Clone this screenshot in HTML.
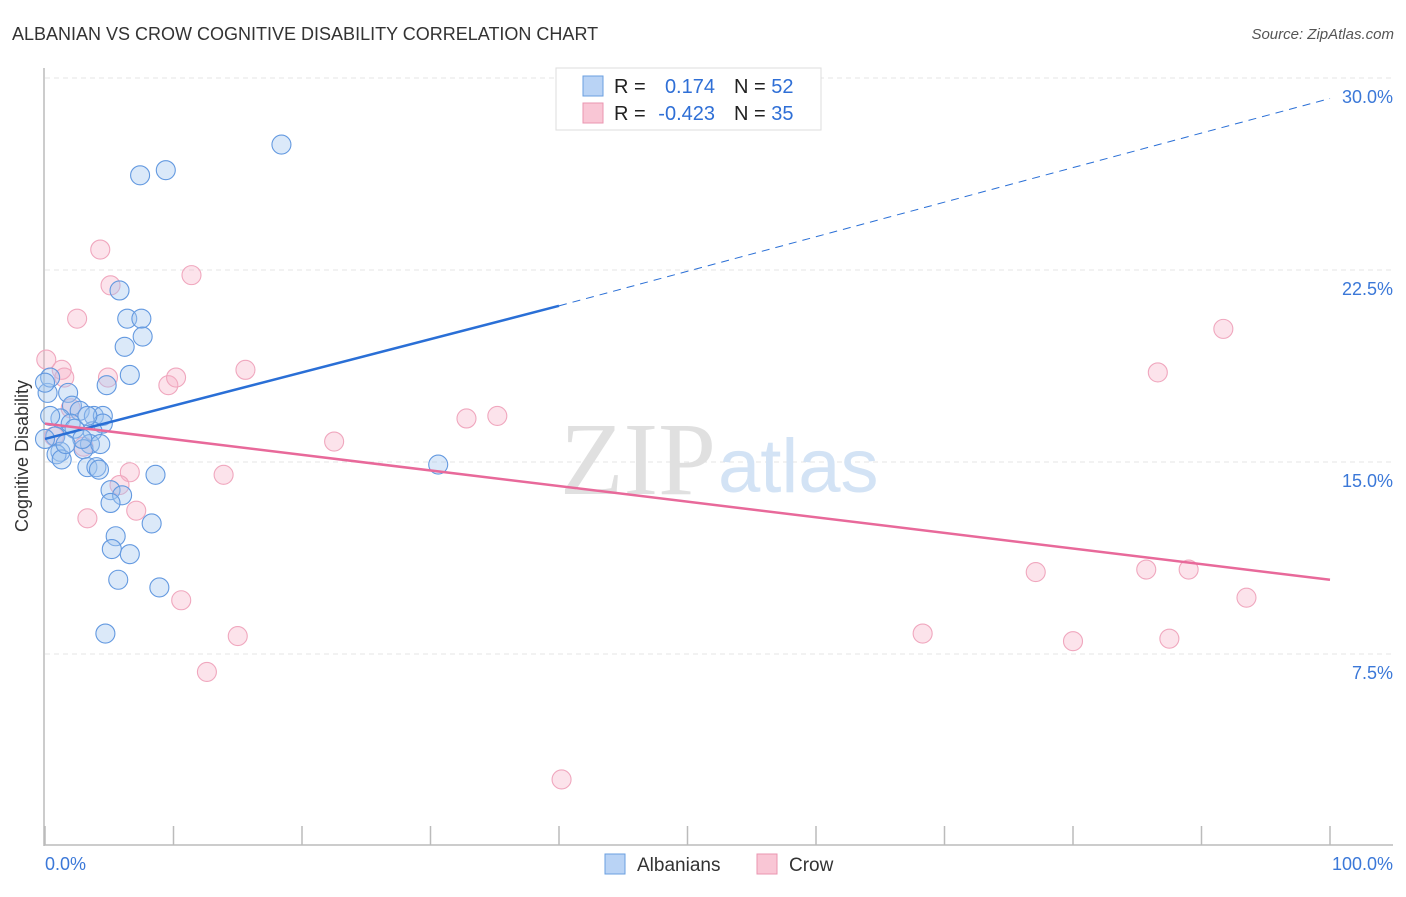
<!DOCTYPE html>
<html><head><meta charset="utf-8">
<style>
body{margin:0;background:#fff;font-family:"Liberation Sans",sans-serif;}
svg text{font-family:"Liberation Sans",sans-serif;}
</style></head>
<body>
<svg id="chart" width="1406" height="892" xmlns="http://www.w3.org/2000/svg">
<text x="12" y="40" font-size="18" fill="#333">ALBANIAN VS CROW COGNITIVE DISABILITY CORRELATION CHART</text>
<text x="1394" y="39" font-size="15" fill="#555" text-anchor="end" font-style="italic">Source: ZipAtlas.com</text>
<g id="grid"></g>
<line x1="44" y1="68" x2="44" y2="846" stroke="#bbb" stroke-width="1.5"/>
<line x1="44" y1="845" x2="1393" y2="845" stroke="#bbb" stroke-width="1.5"/>
<text x="28" y="456" font-size="18" fill="#333" text-anchor="middle" transform="rotate(-90 28 456)">Cognitive Disability</text>
<text x="716" y="494" font-size="104" fill="#e0e0e0" text-anchor="end" style="font-family:'Liberation Serif',serif">ZIP</text>
<text x="718" y="492" font-size="76" fill="#d3e3f5">atlas</text>
<g id="pts"></g>
<g id="lines"></g>
<g id="ticks"></g>
<rect x="556" y="68" width="265" height="62" fill="#fff" stroke="#ddd"/>
<rect x="583" y="76" width="20" height="20" fill="#b9d3f5" stroke="#6a9fe0"/>
<rect x="583" y="103" width="20" height="20" fill="#f9c6d5" stroke="#ea95b0"/>
<text font-size="20" fill="#222"><tspan x="614" y="93">R = </tspan><tspan x="715" text-anchor="end" fill="#2f6fd6">0.174</tspan><tspan x="734" fill="#222">N = </tspan><tspan fill="#2f6fd6">52</tspan></text>
<text font-size="20" fill="#222"><tspan x="614" y="120">R = </tspan><tspan x="715" text-anchor="end" fill="#2f6fd6">-0.423</tspan><tspan x="734" fill="#222">N = </tspan><tspan fill="#2f6fd6">35</tspan></text>
<rect x="605" y="854" width="20" height="20" fill="#b9d3f5" stroke="#6a9fe0"/>
<text x="637" y="871" font-size="19" fill="#333">Albanians</text>
<rect x="757" y="854" width="20" height="20" fill="#f9c6d5" stroke="#ea95b0"/>
<text x="789" y="871" font-size="19" fill="#333">Crow</text>
</svg>
<script>
const yTicks=[7.5,15,22.5,30];
const xTickLabels=["0.0%","100.0%"];
const blueX=[18.4,7.4,9.4,5.8,6.4,7.5,7.6,6.2,6.6,4.8,0.2,0.4,1.8,2.1,2.7,3.8,4.5,4.5,3.7,1.2,0.8,0.4,2.0,3.5,3.0,1.2,0.9,1.3,3.3,4.0,4.2,5.1,6.0,5.1,8.6,30.6,8.3,5.5,5.2,6.6,5.7,8.9,4.7,0.0,2.3,2.9,4.3,1.6,0.0,3.3];
const blueY=[27.4,26.2,26.4,21.7,20.6,20.6,19.9,19.5,18.4,18.0,17.7,18.3,17.7,17.2,17.0,16.8,16.8,16.5,16.2,16.7,16.0,16.8,16.5,15.7,15.5,15.4,15.3,15.1,14.8,14.8,14.7,13.9,13.7,13.4,14.5,14.9,12.6,12.1,11.6,11.4,10.4,10.1,8.3,18.1,16.3,15.9,15.7,15.7,15.9,16.8];
const pinkX=[4.3,11.4,5.1,2.5,0.1,1.3,1.5,4.9,9.6,10.2,15.6,2.0,32.8,35.2,22.5,0.7,3.0,6.6,13.9,5.8,7.1,3.3,10.6,15.0,12.6,40.2,91.7,86.6,77.1,85.7,89.0,93.5,68.3,80.0,87.5];
const pinkY=[23.3,22.3,21.9,20.6,19.0,18.6,18.3,18.3,18.0,18.3,18.6,17.1,16.7,16.8,15.8,16.0,15.6,14.6,14.5,14.1,13.1,12.8,9.6,8.2,6.8,2.6,20.2,18.5,10.7,10.8,10.8,9.7,8.3,8.0,8.1];
const blueTrend=[[0,15.9],[40,21.1],[100,29.2]];
const pinkTrend=[[0,16.5],[100,10.4]];
const NS="http://www.w3.org/2000/svg";
const X=v=>45+v/100*1285, Y=v=>846-v/30*768;
function mk(t,a,p){const e=document.createElementNS(NS,t);for(const k in a)e.setAttribute(k,a[k]);p.appendChild(e);return e;}
const grid=document.getElementById('grid'),ticks=document.getElementById('ticks');
yTicks.forEach(v=>{
 const l=mk('line',{x1:45,x2:1393,y1:Y(v),y2:Y(v),stroke:'#e4e4e4','stroke-dasharray':'5,4'},grid);
 
 
 const t=mk('text',{x:1393,y:Y(v)+25,'font-size':18,fill:'#3b78d8','text-anchor':'end'},ticks);
 t.textContent=v.toFixed(1)+'%';
 
 
});
for(let i=0;i<=10;i++){
 const l=mk('line',{x1:X(i*10),x2:X(i*10),y1:826,y2:845,stroke:'#bbb','stroke-width':1.5},ticks);
 
 
}
xTickLabels.forEach((s,i)=>{
 const t=mk('text',{x:i?1393:45,y:870,'font-size':18,fill:'#3b78d8','text-anchor':i?'end':'start'},ticks);
 t.textContent=s;
 
 
});
const pts=document.getElementById('pts');
pinkX.forEach((x,i)=>{
 const c=mk('circle',{cx:X(x),cy:Y(pinkY[i]),r:9.5,fill:'rgba(246,175,197,0.35)',stroke:'#f0a7be','stroke-width':1.1},pts);
 
 
});
blueX.forEach((x,i)=>{
 const c=mk('circle',{cx:X(x),cy:Y(blueY[i]),r:9.5,fill:'rgba(160,196,240,0.38)',stroke:'#6399e0','stroke-width':1.1},pts);
 
 
});
const lines=document.getElementById('lines');
const bt=blueTrend;
let l=mk('line',{x1:X(bt[0][0]),y1:Y(bt[0][1]),x2:X(bt[1][0]),y2:Y(bt[1][1]),stroke:'#2a6fd6','stroke-width':2.5},lines);


l=mk('line',{x1:X(bt[1][0]),y1:Y(bt[1][1]),x2:X(bt[2][0]),y2:Y(bt[2][1]),stroke:'#2a6fd6','stroke-width':1,'stroke-dasharray':'8,6'},lines);


l=mk('line',{x1:X(pinkTrend[0][0]),y1:Y(pinkTrend[0][1]),x2:X(pinkTrend[1][0]),y2:Y(pinkTrend[1][1]),stroke:'#e8699a','stroke-width':2.5},lines);


</script>
</body></html>
